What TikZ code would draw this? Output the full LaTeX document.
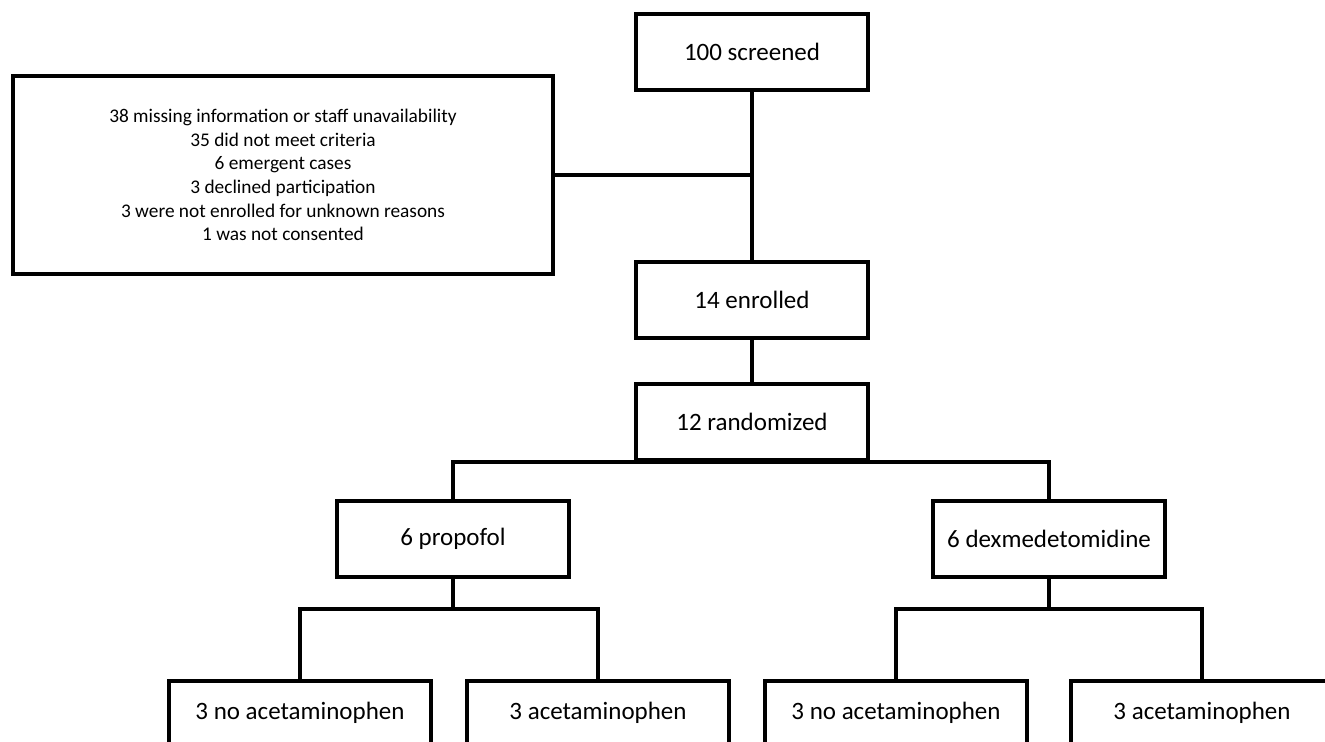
\documentclass[tikz,border=0pt]{standalone}
\usepackage{fontspec}
\setmainfont{Carlito}
\begin{document}
\begin{tikzpicture}[x=0.75pt,y=-0.75pt,
  line width=3pt,
  box/.style={draw=black, line width=3pt, rectangle, inner sep=0pt,
    minimum width=174pt, minimum height=57pt,
    font=\fontsize{18.75}{22.5}\selectfont},
  leafbox/.style={box, minimum width=196.5pt, minimum height=48pt},
  exclbox/.style={draw=black, line width=3pt, rectangle, inner sep=0pt,
    minimum width=405pt, minimum height=148.5pt, align=center,
    font=\fontsize{14.5}{17.7}\selectfont},
  conn/.style={draw=black, line width=3pt}]
\clip (0,0) rectangle (1325,742);
\fill[white] (0,0) rectangle (1325,742);

\node[box] (scr) at (752,52) {100 screened};
\node[exclbox] (exc) at (283,175) {38 missing information or staff unavailability\\
35 did not meet criteria\\
6 emergent cases\\
3 declined participation\\
3 were not enrolled for unknown reasons\\
1 was not consented};
\node[box] (enr) at (752,300) {14 enrolled};
\node[box] (ran) at (752,422) {12 randomized};
\node[box] (pro) at (453,539) {6 propofol};
\node[box] (dex) at (1049,539) {6 dexmedetomidine};
\node[leafbox] (b1) at (300,713) {3 no acetaminophen};
\node[leafbox] (b2) at (598,713) {3 acetaminophen};
\node[leafbox] (b3) at (896,713) {3 no acetaminophen};
\node[leafbox] (b4) at (1202,713) {3 acetaminophen};

\coordinate (j1) at (752,175);
\coordinate (pj) at (453,609);
\coordinate (dj) at (1049,609);

\draw[conn] (scr.south) -- (enr.north);
\draw[conn] (exc.east) -- (j1);
\draw[conn] (enr.south) -- (ran.north);
\draw[conn] (pro.north) |- (ran.south) -| (dex.north);
\draw[conn] (pro.south) -- (pj);
\draw[conn] (b1.north) |- (pj) -| (b2.north);
\draw[conn] (dex.south) -- (dj);
\draw[conn] (b3.north) |- (dj) -| (b4.north);
\end{tikzpicture}
\end{document}
